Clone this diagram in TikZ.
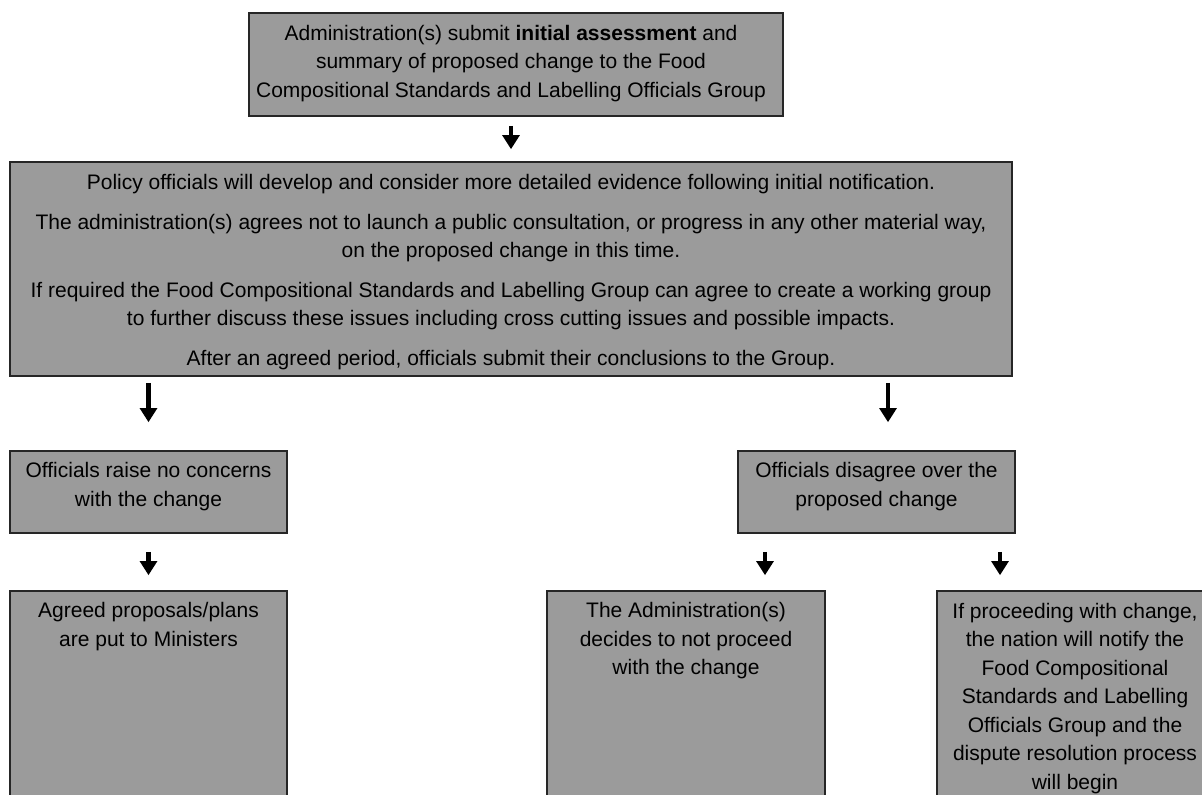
\documentclass[tikz,border=0pt]{standalone}
\usepackage{fontspec}
\setmainfont{Liberation Sans}
\usetikzlibrary{arrows.meta,fit,calc}
\definecolor{boxfill}{RGB}{155,155,155}
\definecolor{boxline}{RGB}{38,38,38}
\begin{document}
\begin{tikzpicture}[x=0.75pt,y=-0.75pt,
  box/.style={draw=boxline, fill=boxfill, line width=1.2pt, inner sep=0pt},
  txt/.style={anchor=north, align=center, inner sep=0pt, text=black,
    font=\fontsize{15.75pt}{21.4pt}\selectfont},
  barrow/.style={draw=black, line width=3.6pt, -{Triangle[width=12.5pt,length=10.5pt]}}
]
\useasboundingbox (0,0) rectangle (1202,794);
\clip (0,0) rectangle (1202,794);

% boxes
\node[box, fit={(249,13) (783,116)}] (top) {};
\node[box, fit={(10,162) (1012,376)}] (big) {};
\node[box, fit={(10,451) (287,533)}] (lmid) {};
\node[box, fit={(738,451) (1015,533)}] (rmid) {};
\node[box, fit={(10,591) (287,810)}] (lbot) {};
\node[box, fit={(547,591) (825,810)}] (mbot) {};
\node[box, fit={(937,591) (1213,810)}] (rbot) {};

% texts
\node[txt] (toptext) at ($(top.north)+(-5,12.5)$)
  {Administration(s) submit \textbf{initial assessment} and\\
   summary of proposed change to the Food\\
   Compositional Standards and Labelling Officials Group};
\node[txt] (bigtext) at ($(big.north)+(0,13)$)
  {Policy officials will develop and consider more detailed evidence following initial notification.\\[8.25pt]
   The administration(s) agrees not to launch a public consultation, or progress in any other material way,\\
   on the proposed change in this time.\\[8.25pt]
   If required the Food Compositional Standards and Labelling Group can agree to create a working group\\
   to further discuss these issues including cross cutting issues and possible impacts.\\[8.25pt]
   After an agreed period, officials submit their conclusions to the Group.};
\node[txt] (lmidtext) at ($(lmid.north)+(0,12)$)
  {Officials raise no concerns\\with the change};
\node[txt] (rmidtext) at ($(rmid.north)+(0,12)$)
  {Officials disagree over the\\proposed change};
\node[txt] (lbottext) at ($(lbot.north)+(0,12)$)
  {Agreed proposals/plans\\are put to Ministers};
\node[txt] (mbottext) at ($(mbot.north)+(0,12)$)
  {The Administration(s)\\decides to not proceed\\with the change};
\node[txt] (rbottext) at ($(rbot.north)+(0,12.5)$)
  {If proceeding with change,\\the nation will notify the\\Food Compositional\\Standards and Labelling\\Officials Group and the\\dispute resolution process\\will begin};

% arrow positions
\coordinate (ra) at (888,0);
\coordinate (ma) at (765,0);
\coordinate (pa) at (1000,0);

% arrows
\draw[barrow, shorten <=6.75pt, shorten >=9pt] (top.south -| big.north) -- (big.north);
\draw[barrow, shorten <=4.5pt, shorten >=21pt] (big.south -| lmid.north) -- (lmid.north);
\draw[barrow, shorten <=4.5pt, shorten >=21pt] (big.south -| ra) -- (rmid.north -| ra);
\draw[barrow, shorten <=13.5pt, shorten >=11.25pt] (lmid.south) -- (lbot.north);
\draw[barrow, shorten <=13.5pt, shorten >=11.25pt] (rmid.south -| ma) -- (mbot.north -| ma);
\draw[barrow, shorten <=13.5pt, shorten >=11.25pt] (rmid.south -| pa) -- (rbot.north -| pa);
\end{tikzpicture}
\end{document}
